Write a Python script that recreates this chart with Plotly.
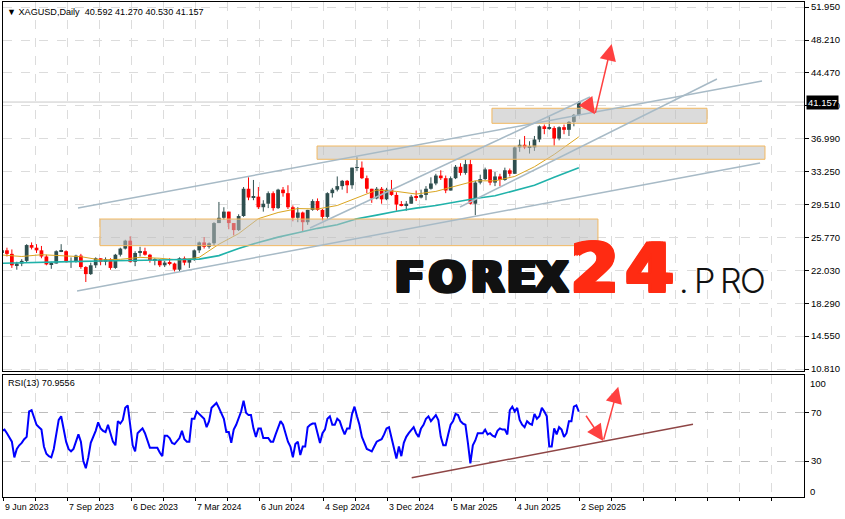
import plotly.graph_objects as go

# ---------------- data (weekly bars, XAGUSD) ----------------
close = [24.3, 23.9, 22.6, 22.8, 23.1, 24.9, 24.6, 24.3, 23.6, 22.7,
         22.8, 24.2, 24.2, 23.0, 23.0, 23.7, 22.4, 21.6, 22.6, 23.4,
         23.0, 23.3, 22.3, 23.8, 24.5, 25.4, 23.0, 24.0, 24.2, 23.8,
         23.2, 23.2, 22.6, 22.9, 22.8, 22.1, 23.4, 22.9, 23.2, 24.3,
         25.2, 24.7, 25.1, 27.4, 28.0, 28.7, 27.4, 26.6, 28.2, 31.3,
         30.3, 30.4, 29.2, 29.6, 30.8, 29.1, 31.2, 30.8, 29.2, 28.0,
         28.6, 27.5, 28.9, 29.9, 28.9, 28.1, 30.8, 31.2, 31.6, 32.2,
         31.7, 33.7, 33.7, 32.5, 31.3, 30.2, 31.3, 30.1, 31.2, 30.6,
         29.5, 29.4, 29.6, 30.4, 30.3, 30.6, 31.3, 31.9, 32.8, 32.5,
         31.1, 32.5, 33.8, 33.1, 34.1, 29.6, 32.0, 32.4, 33.5, 32.0,
         32.7, 32.3, 33.4, 33.0, 36.0, 36.3, 36.0, 36.0, 36.9, 38.4,
         38.2, 38.2, 37.0, 38.3, 38.0, 38.9, 39.7, 41.157]
high = [24.4, 24.6, 24.4, 23.0, 23.3, 25.0, 25.2, 25.0, 24.8, 23.8,
        23.0, 24.3, 25.0, 24.3, 23.5, 23.8, 23.9, 22.5, 22.9, 23.5,
        23.4, 23.5, 23.4, 23.9, 24.6, 25.5, 25.9, 24.2, 24.7, 24.6,
        23.9, 23.4, 23.3, 23.1, 23.4, 22.9, 23.5, 23.6, 23.2, 24.4,
        25.3, 25.8, 25.2, 27.5, 29.8, 29.2, 28.7, 27.4, 28.4, 31.5,
        32.6, 32.3, 31.5, 30.0, 31.0, 31.0, 31.3, 31.5, 31.7, 29.4,
        29.2, 28.7, 28.9, 30.1, 30.2, 29.0, 30.9, 31.4, 32.7, 32.3,
        32.3, 33.7, 34.9, 34.4, 32.8, 31.3, 31.5, 31.5, 31.4, 32.3,
        30.9, 29.9, 29.9, 30.6, 31.1, 31.2, 31.6, 32.6, 33.0, 33.4,
        32.8, 32.7, 34.0, 34.2, 34.6, 34.6, 32.2, 32.9, 33.7, 33.5,
        33.2, 33.0, 33.7, 33.6, 36.1, 36.9, 37.3, 36.7, 37.3, 38.5,
        38.6, 39.5, 38.4, 38.4, 38.6, 39.0, 39.8, 41.27]
low = [23.9, 23.6, 22.3, 22.1, 22.5, 22.9, 24.4, 24.0, 23.4, 22.6,
       22.2, 22.8, 24.1, 22.9, 22.3, 22.9, 22.2, 20.7, 21.5, 22.3,
       22.6, 22.6, 22.1, 22.2, 23.6, 24.4, 22.9, 22.5, 23.6, 23.7,
       22.9, 22.6, 22.4, 22.4, 22.6, 21.9, 21.9, 22.6, 22.3, 23.1,
       24.0, 24.5, 24.5, 24.8, 27.4, 27.8, 26.7, 26.0, 26.5, 28.1,
       30.0, 30.0, 29.0, 28.7, 29.1, 28.8, 29.0, 30.4, 29.0, 27.6,
       27.5, 26.5, 27.2, 28.8, 28.8, 27.7, 27.9, 30.3, 31.0, 31.2,
       30.8, 31.3, 33.3, 32.4, 30.8, 29.7, 30.1, 29.6, 30.0, 30.5,
       28.8, 29.3, 28.8, 29.6, 29.9, 30.2, 30.0, 31.2, 31.7, 32.3,
       30.8, 31.1, 32.4, 32.8, 32.9, 29.5, 28.3, 31.8, 32.3, 31.7,
       31.6, 31.6, 32.2, 32.7, 33.0, 35.5, 35.8, 35.3, 35.6, 36.6,
       37.5, 38.0, 36.2, 36.8, 37.5, 37.3, 38.4, 39.6]
open_ = [24.1] + close[:-1]

# RSI(13), read twice per week
rsi = [55, 56, 53, 50, 46, 33, 40, 43, 45, 48,
       50, 71, 72, 66, 60, 58, 56, 42, 36, 34,
       33, 40, 51, 64, 67, 55, 46, 40, 38, 40,
       47, 52, 46, 30, 24, 33, 45, 50, 55, 62,
       57, 55, 54, 60, 53, 46, 43, 63, 61, 64,
       74, 76, 60, 43, 38, 53, 55, 57, 53, 46,
       41, 41, 41, 41, 37, 34, 51, 51, 49, 45,
       44, 47, 49, 55, 48, 46, 46, 65, 65, 71,
       69, 67, 65, 58, 63, 74, 76, 78, 74, 69,
       65, 54, 54, 45, 56, 60, 65, 71, 80, 70,
       68, 68, 57, 50, 57, 57, 49, 49, 49, 46,
       46, 52, 57, 63, 60, 52, 46, 42, 33, 44,
       46, 35, 42, 42, 58, 60, 61, 61, 52, 45,
       53, 56, 65, 67, 60, 60, 65, 63, 57, 52,
       57, 57, 69, 75, 67, 60, 50, 45, 40, 39,
       38, 42, 46, 47, 48, 52, 57, 58, 50, 40,
       32, 42, 34, 45, 50, 53, 56, 58, 53, 50,
       57, 60, 65, 67, 63, 66, 68, 64, 50, 43,
       43, 52, 60, 63, 69, 68, 63, 61, 60, 45,
       28, 43, 47, 53, 53, 53, 56, 52, 53, 51,
       50, 55, 57, 56, 56, 52, 72, 75, 71, 74,
       64, 60, 58, 63, 61, 60, 69, 65, 67, 74,
       71, 67, 42, 42, 57, 52, 58, 56, 50, 53,
       63, 63, 75, 76, 70.9556]

ma_weeks = [0, 4, 8, 12, 16, 20, 24, 28, 32, 36, 40, 44, 48, 52, 56,
            60, 64, 68, 72, 76, 80, 84, 88, 92, 96, 100, 104, 108, 112, 117]
ma_fast = [23.77, 23.6, 23.8, 23.65, 23.58, 23.2, 23.28, 23.5, 23.4, 23.2,
           23.5, 25.0, 26.2, 27.9, 28.6, 29.05, 29.0, 29.4, 30.3, 31.15,
           31.0, 30.7, 31.0, 31.6, 32.2, 32.2, 32.7, 33.8, 35.2, 37.2]
ma_slow = [22.83, 22.9, 22.95, 23.0, 23.05, 23.08, 23.1, 23.15, 23.2, 23.25,
           23.3, 23.7, 24.5, 25.2, 25.8, 26.3, 26.8, 27.2, 27.9, 28.3,
           28.75, 29.1, 29.4, 29.8, 30.2, 30.5, 31.1, 31.7, 32.6, 33.7]

date_labels = ["9 Jun 2023", "7 Sep 2023", "6 Dec 2023", "7 Mar 2024", "6 Jun 2024",
               "4 Sep 2024", "3 Dec 2024", "5 Mar 2025", "4 Jun 2025", "2 Sep 2025"]
price_ticks = [10.810, 14.550, 18.290, 22.030, 25.770, 29.510, 33.250,
               36.990, 40.730, 44.470, 48.210, 51.950]
last_price = 41.157
rsi_last = 70.9556

# drawn objects (in data units: weekday index, price / RSI)
zones = [(494.9, 713.0, 38.74, 40.45), (317.5, 771.8, 34.65, 36.16), (97.4, 602.4, 24.83, 27.86)]
trend_lines = [(75.1, 29.11, 768.8, 43.55), (74.1, 19.68, 766.8, 34.23),
               (310.4, 26.84, 594.3, 41.73), (462.5, 29.23, 723.1, 43.78)]
rsi_trend = (413.5, 16.1, 698.8, 60.5)
price_arrows = [(589.3, 41.39, 599.4, 39.76), (599.4, 39.76, 616.3, 47.75)]
rsi_arrows = [(589.3, 68.7, 607.8, 46.5), (607.8, 46.5, 623.0, 91.5)]

# ---------------- geometry ----------------
W, H = 845, 519
ML, MR, MT, MB = 3, 41, 2, 22
PXB = 0.986          # pixels per weekday
X0 = -1.0


def ux(px):
    return X0 + (px - ML) / PXB


def paper_x(px):
    return (px - ML) / (W - ML - MR)


def paper_y(py):
    return (H - MB - py) / (H - MT - MB)


xw = [5 * i - 2 for i in range(len(close))]
xr = [2.5 * j - 2 for j in range(len(rsi))]
xma = [5 * w - 2 for w in ma_weeks]

FONT = "Liberation Sans, Arial, sans-serif"
grid_px = [3.7 + 32 * k for k in range(25)]
grid_u = [ux(p) for p in grid_px]

UP, DN = "#2F4F4F", "#FF0000"
fig = go.Figure()
# candles: wicks + bodies
for col, sel in ((UP, lambda o, c: c >= o), (DN, lambda o, c: c < o)):
    wx, wy, bx, bb, bh = [], [], [], [], []
    for x, o, h, l, c in zip(xw, open_, high, low, close):
        if sel(o, c):
            wx += [x, x, None]
            wy += [l, h, None]
            bx.append(x)
            bb.append(min(o, c))
            bh.append(max(abs(c - o), 0.06))
    fig.add_trace(go.Scatter(x=wx, y=wy, mode="lines", line=dict(color=col, width=1),
                             xaxis="x", yaxis="y", hoverinfo="skip"))
    fig.add_trace(go.Bar(x=bx, y=bh, base=bb, width=3.8, marker=dict(color=col, line=dict(width=0)),
                         xaxis="x", yaxis="y", hoverinfo="skip"))
fig.add_trace(go.Scatter(x=xma, y=ma_fast, mode="lines",
                         line=dict(color="#DAA520", width=1), xaxis="x", yaxis="y"))
fig.add_trace(go.Scatter(x=xma, y=ma_slow, mode="lines",
                         line=dict(color="#20B2AA", width=1.6), xaxis="x", yaxis="y"))
fig.add_trace(go.Scatter(x=xr, y=rsi, mode="lines",
                         line=dict(color="#0000FF", width=2), xaxis="x2", yaxis="y2"))

shapes = []
# last price line
shapes.append(dict(type="line", xref="x domain", yref="y", x0=0, x1=1, y0=last_price, y1=last_price,
                   line=dict(color="#C8C8C8", width=1), layer="below"))
for (a, b, lo, hi) in zones:
    shapes.append(dict(type="rect", xref="x", yref="y", x0=a, x1=b, y0=lo, y1=hi,
                       fillcolor="rgba(190,190,190,0.55)", line=dict(color="#F2B860", width=1), layer="above"))
for (xa, ya, xb, yb) in trend_lines:
    shapes.append(dict(type="line", xref="x", yref="y", x0=xa, y0=ya, x1=xb, y1=yb,
                       line=dict(color="#A7BAC6", width=1.5), layer="above"))
shapes.append(dict(type="line", xref="x2", yref="y2", x0=rsi_trend[0], y0=rsi_trend[1],
                   x1=rsi_trend[2], y1=rsi_trend[3], line=dict(color="#8E4545", width=1.5), layer="above"))

ann = []
for (xa, ya, xb, yb) in price_arrows:
    ann.append(dict(x=xb, y=yb, ax=xa, ay=ya, xref="x", yref="y", axref="x", ayref="y",
                    text="", showarrow=True, arrowhead=2, arrowsize=2.2, arrowwidth=1.5,
                    arrowcolor="#FF4040", standoff=0))
for (xa, ya, xb, yb) in rsi_arrows:
    ann.append(dict(x=xb, y=yb, ax=xa, ay=ya, xref="x2", yref="y2", axref="x2", ayref="y2",
                    text="", showarrow=True, arrowhead=2, arrowsize=2.2, arrowwidth=1.5,
                    arrowcolor="#FF4040", standoff=0))

# header texts
ann.append(dict(x=paper_x(5), y=paper_y(12), xref="paper", yref="paper", xanchor="left", yanchor="middle",
                text="\u25BC XAGUSD,Daily\u00a0\u00a040.592 41.270 40.530 41.157", showarrow=False,
                font=dict(family=FONT, size=9.1, color="black")))
ann.append(dict(x=paper_x(6), y=paper_y(383), xref="paper", yref="paper", xanchor="left", yanchor="middle",
                text="RSI(13) %.4f" % rsi_last, showarrow=False,
                font=dict(family=FONT, size=9.1, color="black")))
# last price tag
ann.append(dict(x=paper_x(806), y=last_price, xref="paper", yref="y", xanchor="left", yanchor="middle",
                text="%.3f" % last_price, showarrow=False, bgcolor="black", borderpad=1,
                font=dict(family=FONT, size=9.5, color="white")))
# RSI 100 / 0 labels
ann.append(dict(x=paper_x(808), y=paper_y(383), xref="paper", yref="paper", xanchor="left", yanchor="middle",
                text="100", showarrow=False, font=dict(family=FONT, size=9.5, color="black")))
ann.append(dict(x=paper_x(808), y=paper_y(491), xref="paper", yref="paper", xanchor="left", yanchor="middle",
                text="0", showarrow=False, font=dict(family=FONT, size=9.5, color="black")))
# date labels
for k, lab in enumerate(date_labels):
    ann.append(dict(x=paper_x(grid_px[2 * k] - 1), y=paper_y(507), xref="paper", yref="paper",
                    xanchor="left", yanchor="middle", text=lab, showarrow=False,
                    font=dict(family=FONT, size=8.8, color="black")))

# watermark FOREX24.PRO, letter by letter
WM = "DejaVu Sans, Liberation Sans, sans-serif"


def thick(c, dx, dy):
    return ", ".join("%gpx %gpx 0 %s" % (a, b, c) for a, b in
                     [(dx, 0), (-dx, 0), (0, dy), (0, -dy), (dx, dy), (-dx, dy), (dx, -dy), (-dx, -dy),
                      (dx / 2, 0), (-dx / 2, 0)])


for ch, cx in zip("FOREX", [409, 447.5, 487.5, 521.5, 551]):
    ann.append(dict(x=paper_x(cx), y=paper_y(277.5), xref="paper", yref="paper", xanchor="center",
                    yanchor="middle", text=ch, showarrow=False,
                    font=dict(family=WM, size=43, color="#111111", weight="bold",
                              shadow=thick("#111111", 2.2, 0.8))))
for ch, cx in zip("24", [594, 649.5]):
    ann.append(dict(x=paper_x(cx), y=paper_y(268.3), xref="paper", yref="paper", xanchor="center",
                    yanchor="middle", text=ch, showarrow=False,
                    font=dict(family=WM, size=68, color="#FF2B12", weight="bold",
                              shadow=thick("#FF2B12", 2.6, 1.0))))
for ch, cx in zip(".PRO", [683.5, 704.5, 731, 752.5]):
    ann.append(dict(x=paper_x(cx), y=paper_y(280.8), xref="paper", yref="paper", xanchor="center",
                    yanchor="middle", text=ch, showarrow=False,
                    font=dict(family="Inter, Lato, sans-serif", size=34, color="#111111", weight=300)))

y_top = 48.21 + (40 - 2) / 8.797
y_bot = 48.21 - (371 - 40) / 8.797
rsi_top = (497.2 - 375) / 1.2075

axis_common = dict(showline=True, mirror=True, linecolor="black", linewidth=1, zeroline=False)
fig.update_layout(
    width=W, height=H, margin=dict(l=ML, r=MR, t=MT, b=MB),
    paper_bgcolor="white", plot_bgcolor="white", showlegend=False, hovermode=False,
    barmode="overlay",
    shapes=shapes, annotations=ann,
    xaxis=dict(domain=[0, 1], range=[X0, ux(804)], anchor="y", tickvals=grid_u, showticklabels=False,
               showgrid=True, gridcolor="#DCDCDC", griddash="dash", gridwidth=1, ticks="",
               **axis_common),
    yaxis=dict(domain=[paper_y(371), 1], range=[y_bot, y_top], side="right", anchor="x",
               tickvals=price_ticks, ticktext=["%.3f" % v for v in price_ticks],
               ticks="outside", ticklen=4, tickcolor="black",
               tickfont=dict(family=FONT, size=9.5, color="black"),
               showgrid=True, gridcolor="#DCDCDC", griddash="dash", **axis_common),
    xaxis2=dict(domain=[0, 1], range=[X0, ux(804)], anchor="y2", matches="x", tickvals=grid_u,
                showticklabels=False, showgrid=True, gridcolor="#DCDCDC", griddash="dash",
                ticks="outside", ticklen=3, tickcolor="black", **axis_common),
    yaxis2=dict(domain=[0, paper_y(375)], range=[0.2, rsi_top], side="right", anchor="x2",
                tickvals=[30, 70], ticktext=["30", "70"], ticks="outside", ticklen=4, tickcolor="black",
                tickfont=dict(family=FONT, size=9.5, color="black"),
                showgrid=True, gridcolor="#BDBDBD", griddash="dash", **axis_common),
)

fig.write_html("out.html", config=dict(displayModeBar=False),
               post_script="document.body.style.margin='0px';document.body.style.overflow='hidden';")
